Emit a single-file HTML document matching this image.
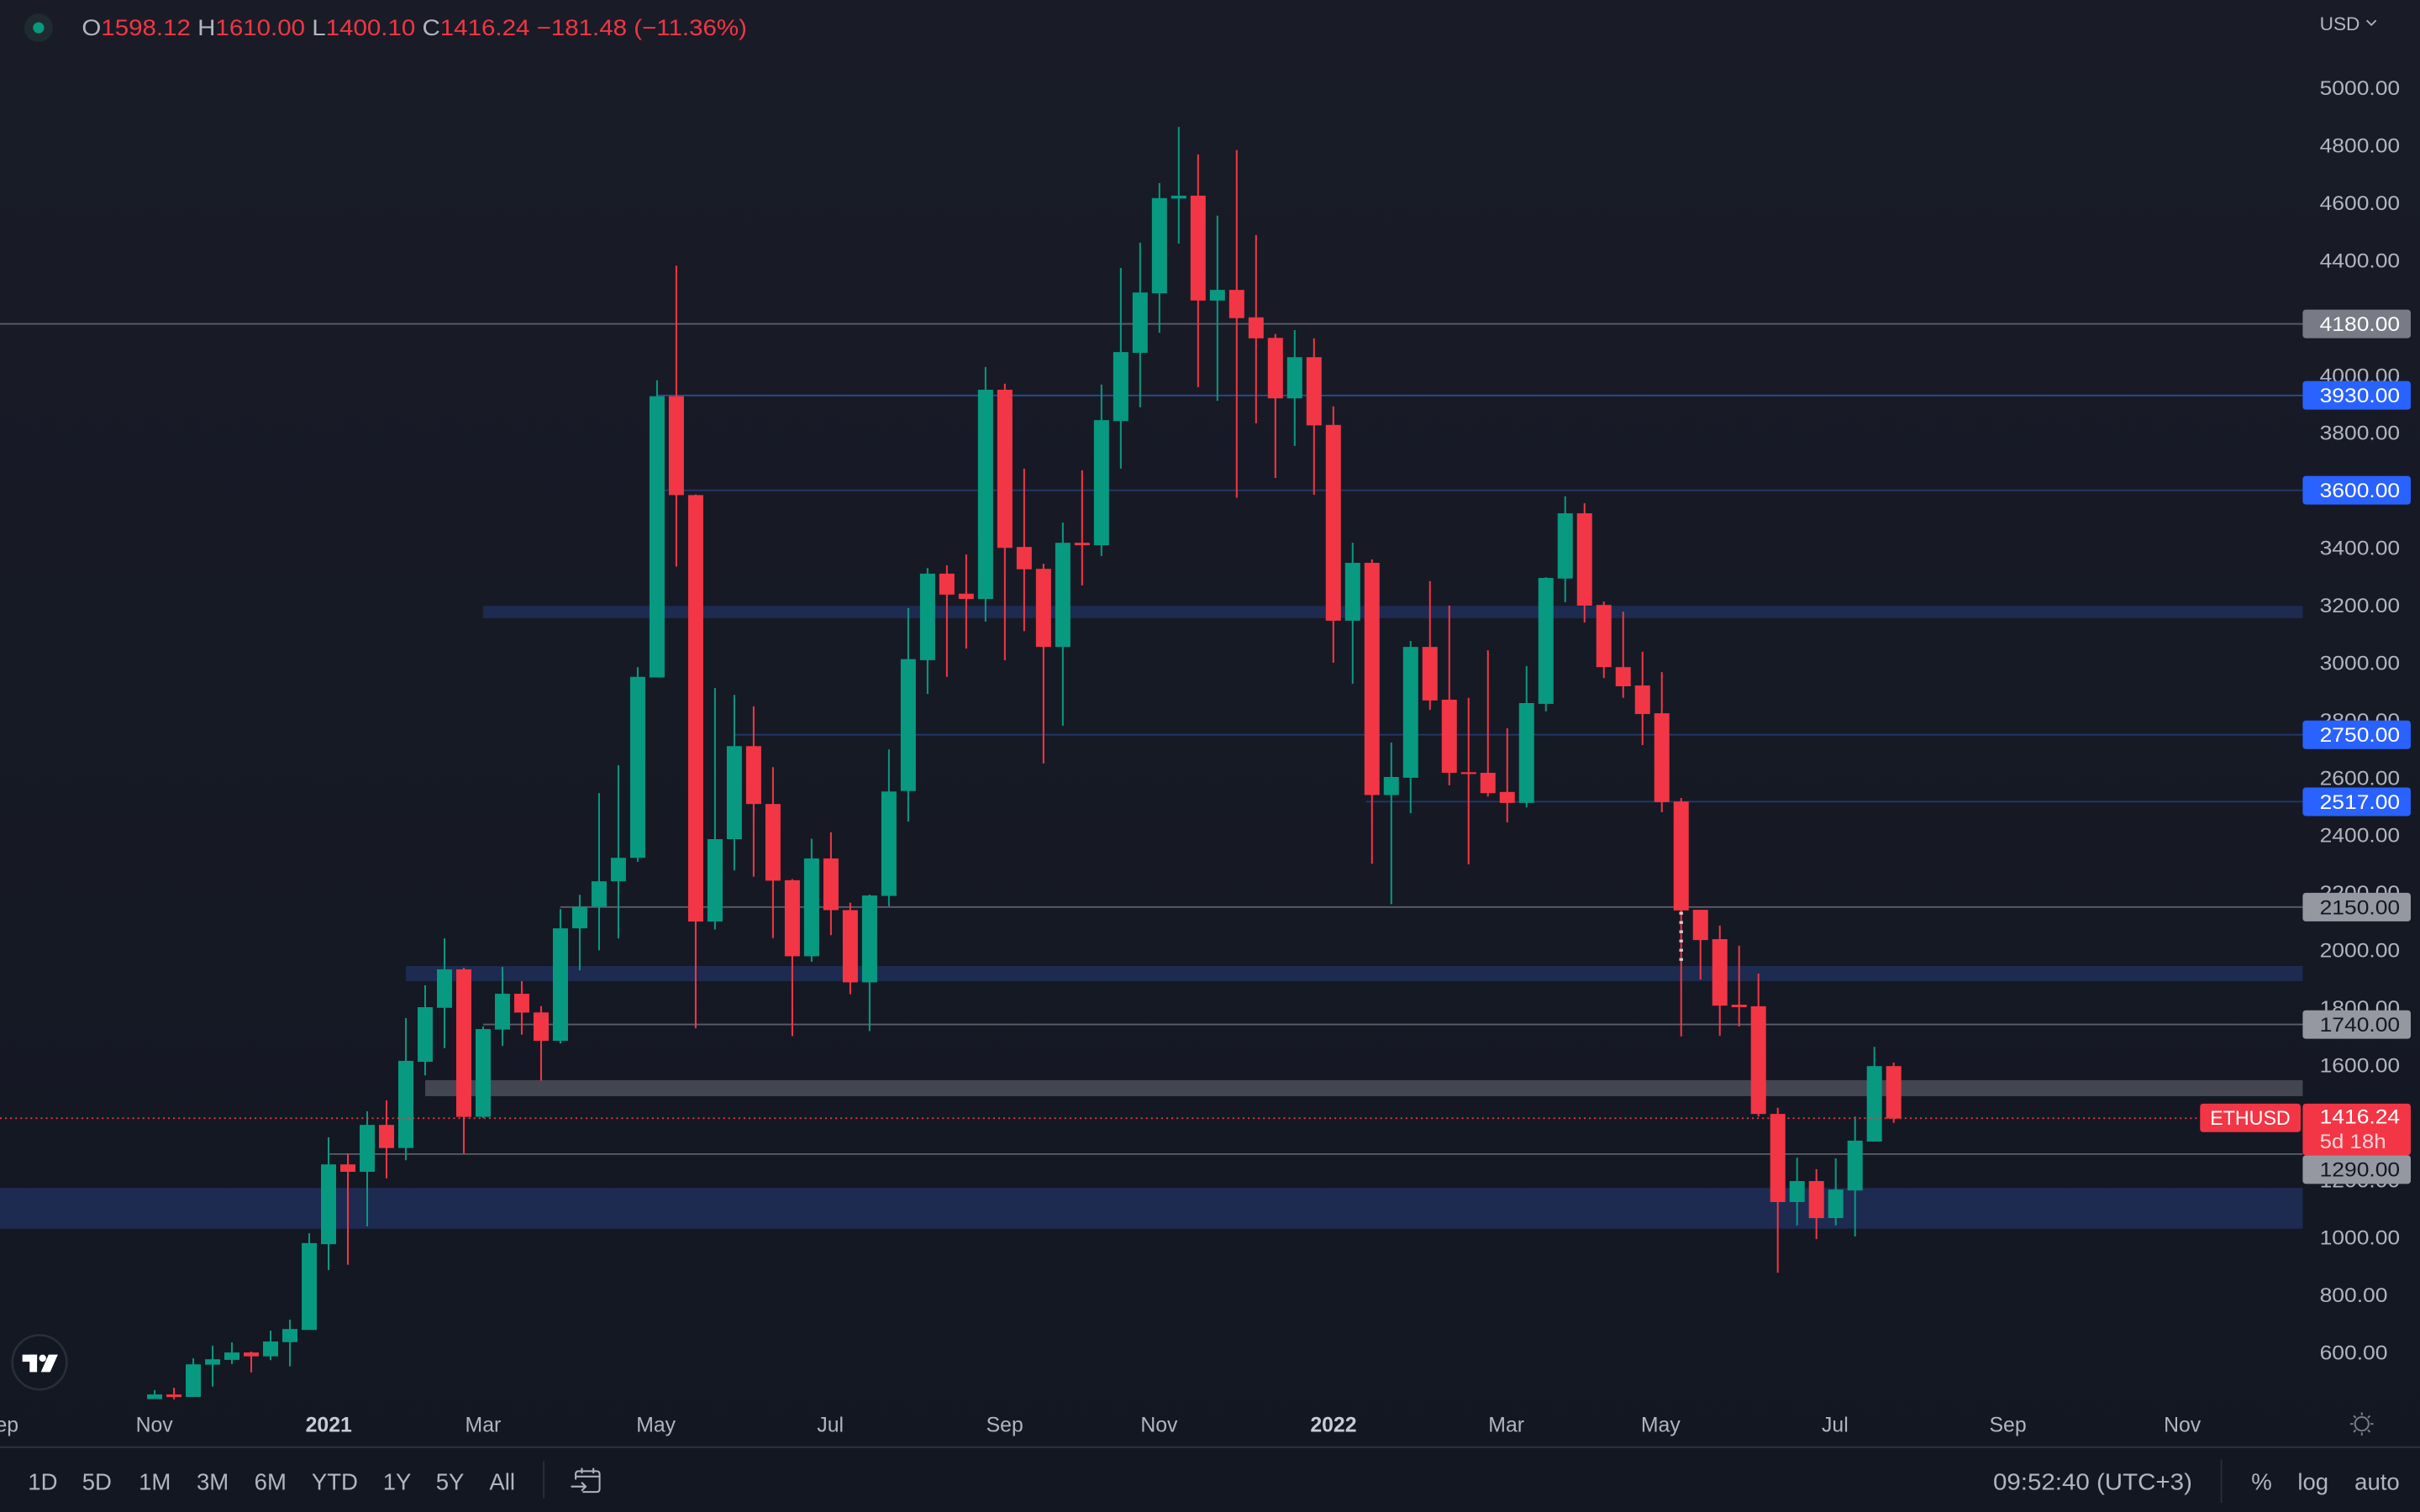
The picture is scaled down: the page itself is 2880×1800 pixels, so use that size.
<!DOCTYPE html>
<html>
<head>
<meta charset="utf-8">
<style>
html,body{margin:0;padding:0;background:#131722;}
svg{display:block;}
text{font-family:"Liberation Sans",sans-serif;}
</style>
</head>
<body>
<svg xmlns="http://www.w3.org/2000/svg" width="2880" height="1800" viewBox="0 0 1568 980">
<defs>
<linearGradient id="bg" x1="0" y1="0" x2="0" y2="1">
<stop offset="0" stop-color="#191c27"/>
<stop offset="1" stop-color="#131722"/>
</linearGradient>
</defs>
<rect x="0" y="0" width="1568" height="980" fill="url(#bg)"/>

<!-- zones -->
<g fill="#1d2b50">
<rect x="313" y="392.7" width="1179" height="8"/>
<rect x="263" y="626.1" width="1229" height="9.8"/>
<rect x="0" y="769.9" width="1492" height="26.5"/>
</g>
<rect x="275.5" y="700.1" width="1216.5" height="10.4" fill="#434651"/>

<!-- horizontal lines -->
<g stroke-width="1" fill="none">
<path d="M0 209.9H1492" stroke="#5a5e69"/>
<path d="M426 256.3H1492" stroke="#2b4f97"/>
<path d="M430 317.8H1492M476 476.2H1492M885 519.6H1492" stroke="#23386a"/>
<path d="M363 587.9H1492M313 664H1492M213 748H1492" stroke="#5a5e69"/>
</g>

<!-- wicks green -->
<path stroke="#089981" stroke-width="1.1" fill="none" d="M100.2 901V906.8M125.24 880.4V905.4M137.76 872.3V898.7M150.28 870.1V884.1M175.32 862.4V881.6M187.84 855.3V885.6M200.36 799.3V862M212.88 737.2V823.2M237.92 720.3V794.9M262.96 659.9V752M275.48 638.6V697M288 608.2V679.3M313.04 665.3V724.7M325.56 626.7V678M363.12 589.2V676.4M375.64 580V629M388.16 514.1V616M400.68 496V608.3M413.2 432.4V558.6M425.72 246.5V439.1M463.28 446V602.4M475.8 450.4V564.2M525.88 543.6V623.4M563.44 579.8V668.3M575.96 485.8V587.4M588.48 394.1V532.5M601 368.2V449.8M638.56 237.9V402.9M688.64 338.7V470.4M713.68 249.3V360.4M726.2 173.7V303.7M738.72 157.3V264M751.24 118.7V215.7M763.76 82.3V157.9M788.8 139.8V259.8M838.88 214V289M876.44 351.8V443.2M901.48 481.3V586M914 415.4V527M989.12 431.7V523.3M1001.64 374.1V461.1M1014.16 321.8V390.4M1164.4 750.3V794.3M1189.44 750.8V794.3M1201.96 723.7V801.4M1214.48 678.5V739.9"/>
<!-- wicks red -->
<path stroke="#f23645" stroke-width="1.1" fill="none" d="M112.72 899.5V907M162.8 876V889.5M225.4 747.6V819.7M250.44 713.2V763.7M300.52 627.2V747.6M338.08 635.9V670.6M350.6 652.1V700.4M438.24 172.2V367.2M450.76 320.5V666.5M488.32 457.8V568.2M500.84 497.2V608M513.36 569.8V671.6M538.4 539.5V606.1M550.92 585.1V644.4M613.52 366.5V438.7M626.04 359.3V420.4M651.08 248.7V427.9M663.6 303.7V409M676.12 365.4V494.8M701.16 304.8V379.5M776.28 100.1V250.9M801.32 97.3V322.6M813.84 152.3V274.3M826.36 216.5V309.8M851.4 219.3V320.7M863.92 263.4V429.6M888.96 362.6V559.8M926.52 376.7V460.1M939.04 392.5V509M951.56 452.3V560.2M964.08 421.5V516.3M976.6 472V533M1026.68 326.2V403.5M1039.2 389.9V439.5M1051.72 396.4V452.3M1064.24 422.4V482.9M1076.76 435.6V526.5M1089.28 517.2V671.8M1101.8 589.7V634.9M1114.32 599.9V671.4M1126.84 613V665.3M1139.36 631V723.7M1151.88 718V824.9M1176.92 757.8V803.1M1227 688.7V727.8"/>

<!-- green bodies -->
<g fill="#089981">
<rect x="95.3" y="903.8" width="9.8" height="3"/>
<rect x="120.34" y="884.3" width="9.8" height="21.1"/>
<rect x="132.86" y="881" width="9.8" height="3.5"/>
<rect x="145.38" y="876.6" width="9.8" height="4.8"/>
<rect x="170.42" y="869.5" width="9.8" height="9.6"/>
<rect x="182.94" y="861.4" width="9.8" height="8.5"/>
<rect x="195.46" y="805.7" width="9.8" height="56.3"/>
<rect x="207.98" y="754.7" width="9.8" height="51.7"/>
<rect x="233.02" y="729.1" width="9.8" height="30.4"/>
<rect x="258.06" y="687.6" width="9.8" height="56.5"/>
<rect x="270.58" y="652.8" width="9.8" height="35.4"/>
<rect x="283.1" y="628.3" width="9.8" height="24.9"/>
<rect x="308.14" y="667" width="9.8" height="56.9"/>
<rect x="320.66" y="644.1" width="9.8" height="23.2"/>
<rect x="358.22" y="601.7" width="9.8" height="72.9"/>
<rect x="370.74" y="587.7" width="9.8" height="14"/>
<rect x="383.26" y="571.2" width="9.8" height="16.5"/>
<rect x="395.78" y="556" width="9.8" height="15.2"/>
<rect x="408.3" y="438.7" width="9.8" height="117.3"/>
<rect x="420.82" y="256.8" width="9.8" height="182.3"/>
<rect x="458.38" y="543.9" width="9.8" height="53.4"/>
<rect x="470.9" y="483.6" width="9.8" height="60.3"/>
<rect x="520.98" y="556.4" width="9.8" height="63.4"/>
<rect x="558.54" y="580.4" width="9.8" height="56.3"/>
<rect x="571.06" y="513" width="9.8" height="67.7"/>
<rect x="583.58" y="427.2" width="9.8" height="85.5"/>
<rect x="596.1" y="371.8" width="9.8" height="56.1"/>
<rect x="633.66" y="252.6" width="9.8" height="135.6"/>
<rect x="683.74" y="351.8" width="9.8" height="67.5"/>
<rect x="708.78" y="272.3" width="9.8" height="81.1"/>
<rect x="721.3" y="228.2" width="9.8" height="44.7"/>
<rect x="733.82" y="189.6" width="9.8" height="39.1"/>
<rect x="746.34" y="128.4" width="9.8" height="61.7"/>
<rect x="758.86" y="126.8" width="9.8" height="1.9"/>
<rect x="783.9" y="187.9" width="9.8" height="6.9"/>
<rect x="833.98" y="231.5" width="9.8" height="26.7"/>
<rect x="871.54" y="364.8" width="9.8" height="37.5"/>
<rect x="896.58" y="503.6" width="9.8" height="11.7"/>
<rect x="909.1" y="419.3" width="9.8" height="84.8"/>
<rect x="984.22" y="455.7" width="9.8" height="64.7"/>
<rect x="996.74" y="374.6" width="9.8" height="81.6"/>
<rect x="1009.26" y="332.7" width="9.8" height="42.3"/>
<rect x="1159.5" y="765.5" width="9.8" height="13.6"/>
<rect x="1184.54" y="771" width="9.8" height="18.5"/>
<rect x="1197.06" y="739.3" width="9.8" height="32.3"/>
<rect x="1209.58" y="691" width="9.8" height="48.9"/>
</g>
<!-- red bodies -->
<g fill="#f23645">
<rect x="107.82" y="903.8" width="9.8" height="1.7"/>
<rect x="157.9" y="876.6" width="9.8" height="2.5"/>
<rect x="220.5" y="754.7" width="9.8" height="4.8"/>
<rect x="245.54" y="729.1" width="9.8" height="15"/>
<rect x="295.62" y="628.3" width="9.8" height="95.6"/>
<rect x="333.18" y="644.1" width="9.8" height="12.2"/>
<rect x="345.7" y="656.2" width="9.8" height="18.4"/>
<rect x="433.34" y="256.8" width="9.8" height="64.1"/>
<rect x="445.86" y="320.9" width="9.8" height="276.4"/>
<rect x="483.42" y="483.6" width="9.8" height="37.5"/>
<rect x="495.94" y="521.1" width="9.8" height="49.7"/>
<rect x="508.46" y="570.5" width="9.8" height="49.3"/>
<rect x="533.5" y="556.4" width="9.8" height="33.5"/>
<rect x="546.02" y="589.9" width="9.8" height="46.8"/>
<rect x="608.62" y="371.8" width="9.8" height="13.6"/>
<rect x="621.14" y="384.8" width="9.8" height="3.4"/>
<rect x="646.18" y="252.6" width="9.8" height="102.5"/>
<rect x="658.7" y="354.5" width="9.8" height="14.5"/>
<rect x="671.22" y="368.7" width="9.8" height="50.6"/>
<rect x="696.26" y="351.8" width="9.8" height="1.6"/>
<rect x="771.38" y="126.8" width="9.8" height="68"/>
<rect x="796.42" y="187.9" width="9.8" height="18.3"/>
<rect x="808.94" y="205.7" width="9.8" height="13.6"/>
<rect x="821.46" y="219" width="9.8" height="39.2"/>
<rect x="846.5" y="231.5" width="9.8" height="44.2"/>
<rect x="859.02" y="275.4" width="9.8" height="126.9"/>
<rect x="884.06" y="364.8" width="9.8" height="150.5"/>
<rect x="921.62" y="419.3" width="9.8" height="34.7"/>
<rect x="934.14" y="453.5" width="9.8" height="47.4"/>
<rect x="946.66" y="500.5" width="9.8" height="1.2"/>
<rect x="959.18" y="500.9" width="9.8" height="13.2"/>
<rect x="971.7" y="513.3" width="9.8" height="7.1"/>
<rect x="1021.78" y="332.7" width="9.8" height="59.8"/>
<rect x="1034.3" y="392.1" width="9.8" height="40.3"/>
<rect x="1046.82" y="432.4" width="9.8" height="12.4"/>
<rect x="1059.34" y="444.3" width="9.8" height="18.5"/>
<rect x="1071.86" y="462.3" width="9.8" height="57.6"/>
<rect x="1084.38" y="519.5" width="9.8" height="70.6"/>
<rect x="1096.9" y="589.7" width="9.8" height="19.6"/>
<rect x="1109.42" y="608.7" width="9.8" height="43.1"/>
<rect x="1121.94" y="651.2" width="9.8" height="1.6"/>
<rect x="1134.46" y="652.2" width="9.8" height="69.8"/>
<rect x="1146.98" y="722" width="9.8" height="57.1"/>
<rect x="1172.02" y="765.5" width="9.8" height="24"/>
<rect x="1222.1" y="691" width="9.8" height="34"/>
</g>
<!-- small dashed marker -->
<path d="M1089.28 591V626" stroke="#d8c8d0" stroke-width="2.4" stroke-dasharray="1.8 4.2" fill="none"/>

<!-- current price dotted line -->
<path d="M0 724.8H1425" stroke="#f23645" stroke-width="1" stroke-dasharray="1.1 2.2" fill="none"/>

<!-- header -->
<circle cx="25" cy="18" r="9.2" fill="#1f2b30"/>
<circle cx="25" cy="18" r="3.6" fill="#089981"/>
<text x="53" y="23" font-size="14.5" textLength="431" lengthAdjust="spacingAndGlyphs"><tspan fill="#b2b5be">O</tspan><tspan fill="#f23645">1598.12 </tspan><tspan fill="#b2b5be">H</tspan><tspan fill="#f23645">1610.00 </tspan><tspan fill="#b2b5be">L</tspan><tspan fill="#f23645">1400.10 </tspan><tspan fill="#b2b5be">C</tspan><tspan fill="#f23645">1416.24 −181.48 (−11.36%)</tspan></text>

<!-- price axis -->
<text x="1503" y="19.5" font-size="12" fill="#b2b5be" textLength="26" lengthAdjust="spacingAndGlyphs">USD</text>
<path d="M1533.5 13.2L1536.5 16.2L1539.5 13.2" stroke="#b2b5be" stroke-width="1" fill="none"/>
<g font-size="13" fill="#b2b5be">
<text x="1503" y="61.6" textLength="52" lengthAdjust="spacingAndGlyphs">5000.00</text>
<text x="1503" y="98.9" textLength="52" lengthAdjust="spacingAndGlyphs">4800.00</text>
<text x="1503" y="136.1" textLength="52" lengthAdjust="spacingAndGlyphs">4600.00</text>
<text x="1503" y="173.4" textLength="52" lengthAdjust="spacingAndGlyphs">4400.00</text>
<text x="1503" y="247.9" textLength="52" lengthAdjust="spacingAndGlyphs">4000.00</text>
<text x="1503" y="285.1" textLength="52" lengthAdjust="spacingAndGlyphs">3800.00</text>
<text x="1503" y="359.6" textLength="52" lengthAdjust="spacingAndGlyphs">3400.00</text>
<text x="1503" y="396.9" textLength="52" lengthAdjust="spacingAndGlyphs">3200.00</text>
<text x="1503" y="434.2" textLength="52" lengthAdjust="spacingAndGlyphs">3000.00</text>
<text x="1503" y="471.4" textLength="52" lengthAdjust="spacingAndGlyphs">2800.00</text>
<text x="1503" y="508.7" textLength="52" lengthAdjust="spacingAndGlyphs">2600.00</text>
<text x="1503" y="545.9" textLength="52" lengthAdjust="spacingAndGlyphs">2400.00</text>
<text x="1503" y="583.2" textLength="52" lengthAdjust="spacingAndGlyphs">2200.00</text>
<text x="1503" y="620.4" textLength="52" lengthAdjust="spacingAndGlyphs">2000.00</text>
<text x="1503" y="657.7" textLength="52" lengthAdjust="spacingAndGlyphs">1800.00</text>
<text x="1503" y="695" textLength="52" lengthAdjust="spacingAndGlyphs">1600.00</text>
<text x="1503" y="769.5" textLength="52" lengthAdjust="spacingAndGlyphs">1200.00</text>
<text x="1503" y="806.7" textLength="52" lengthAdjust="spacingAndGlyphs">1000.00</text>
<text x="1503" y="844" textLength="44" lengthAdjust="spacingAndGlyphs">800.00</text>
<text x="1503" y="881.2" textLength="44" lengthAdjust="spacingAndGlyphs">600.00</text>
</g>

<!-- price labels -->
<rect x="1492" y="200.7" width="70" height="18.5" rx="2" fill="#787b86"/>
<g fill="#2962ff">
<rect x="1492" y="247" width="70" height="18.5" rx="2"/>
<rect x="1492" y="308.5" width="70" height="18.5" rx="2"/>
<rect x="1492" y="467" width="70" height="18.5" rx="2"/>
<rect x="1492" y="510.4" width="70" height="18.5" rx="2"/>
</g>
<g fill="#9598a1">
<rect x="1492" y="578.7" width="70" height="18.5" rx="2"/>
<rect x="1492" y="654.8" width="70" height="18.5" rx="2"/>
<rect x="1492" y="748.8" width="70" height="18.5" rx="2"/>
</g>
<rect x="1492" y="715.3" width="70" height="33.5" rx="2" fill="#f23645"/>
<rect x="1425.5" y="715.3" width="65.2" height="18.5" rx="2" fill="#f23645"/>
<g font-size="13" fill="#ffffff">
<text x="1503" y="214.5" textLength="52" lengthAdjust="spacingAndGlyphs">4180.00</text>
<text x="1503" y="260.9" textLength="52" lengthAdjust="spacingAndGlyphs">3930.00</text>
<text x="1503" y="322.4" textLength="52" lengthAdjust="spacingAndGlyphs">3600.00</text>
<text x="1503" y="480.8" textLength="52" lengthAdjust="spacingAndGlyphs">2750.00</text>
<text x="1503" y="524.2" textLength="52" lengthAdjust="spacingAndGlyphs">2517.00</text>
<text x="1503" y="728.3" textLength="52" lengthAdjust="spacingAndGlyphs">1416.24</text>
<text x="1432" y="729" textLength="52" lengthAdjust="spacingAndGlyphs">ETHUSD</text>
</g>
<text x="1503" y="744.3" font-size="13" fill="#fcd3d7" textLength="43" lengthAdjust="spacingAndGlyphs">5d 18h</text>
<g font-size="13" fill="#131722">
<text x="1503" y="592.5" textLength="52" lengthAdjust="spacingAndGlyphs">2150.00</text>
<text x="1503" y="668.6" textLength="52" lengthAdjust="spacingAndGlyphs">1740.00</text>
<text x="1503" y="762.6" textLength="52" lengthAdjust="spacingAndGlyphs">1290.00</text>
</g>

<!-- time axis -->
<g font-size="13.5" fill="#b2b5be" text-anchor="middle">
<text x="0" y="928">Sep</text>
<text x="100" y="928">Nov</text>
<text x="213" y="928" font-weight="bold" fill="#c8cbd3">2021</text>
<text x="313" y="928">Mar</text>
<text x="425" y="928">May</text>
<text x="538" y="928">Jul</text>
<text x="651" y="928">Sep</text>
<text x="751" y="928">Nov</text>
<text x="864" y="928" font-weight="bold" fill="#c8cbd3">2022</text>
<text x="976" y="928">Mar</text>
<text x="1076" y="928">May</text>
<text x="1189" y="928">Jul</text>
<text x="1301" y="928">Sep</text>
<text x="1414" y="928">Nov</text>
</g>
<!-- settings sun icon -->
<g stroke="#787b86" stroke-width="1.1" fill="none">
<circle cx="1530.3" cy="922.9" r="4.4"/>
<path d="M1530.3 915.4V917.4M1530.3 928.4V930.4M1522.8 922.9H1524.8M1535.8 922.9H1537.8M1525 917.6L1526.4 919M1534.2 926.8L1535.6 928.2M1535.6 917.6L1534.2 919M1526.4 926.8L1525 928.2"/>
</g>

<!-- TV logo -->
<circle cx="25.6" cy="883" r="17.6" fill="#131722" stroke="#2a2e39" stroke-width="1.4"/>
<g fill="#ffffff">
<rect x="14.5" y="878" width="9.5" height="4.6"/>
<rect x="19.2" y="878" width="4.8" height="11.3"/>
<circle cx="27.6" cy="880.3" r="2.3"/>
<polygon points="31.5,878 37.5,878 32.5,889.3 26.5,889.3"/>
</g>

<!-- bottom toolbar -->
<path d="M0 938H1568" stroke="#2a2e39" stroke-width="1.2"/>
<path d="M352.3 947V971M1439.3 946V974" stroke="#2a2e39" stroke-width="1"/>
<g font-size="15" fill="#b2b5be" text-anchor="middle">
<text x="27.7" y="965.5">1D</text>
<text x="62.8" y="965.5">5D</text>
<text x="100.3" y="965.5">1M</text>
<text x="137.8" y="965.5">3M</text>
<text x="175.2" y="965.5">6M</text>
<text x="216.9" y="965.5">YTD</text>
<text x="257.3" y="965.5">1Y</text>
<text x="291.6" y="965.5">5Y</text>
<text x="325.4" y="965.5">All</text>
<text x="1465.4" y="965.5">%</text>
<text x="1498.7" y="965.5">log</text>
<text x="1540.2" y="965.5">auto</text>
</g>
<text x="1291.4" y="965.5" font-size="15" fill="#b2b5be" textLength="129" lengthAdjust="spacingAndGlyphs">09:52:40 (UTC+3)</text>
<!-- calendar icon -->
<g stroke="#b2b5be" stroke-width="1.1" fill="none">
<path d="M373 959V955.5Q373 953.5 375 953.5H386.5Q388.5 953.5 388.5 955.5V965Q388.5 967 386.5 967H377.5"/>
<path d="M373 957H388.5M377 951.5V955M384.5 951.5V955"/>
<path d="M370 963.5H379.5M376.8 960.8L379.5 963.5L376.8 966.2"/>
</g>
</svg>
</body>
</html>
